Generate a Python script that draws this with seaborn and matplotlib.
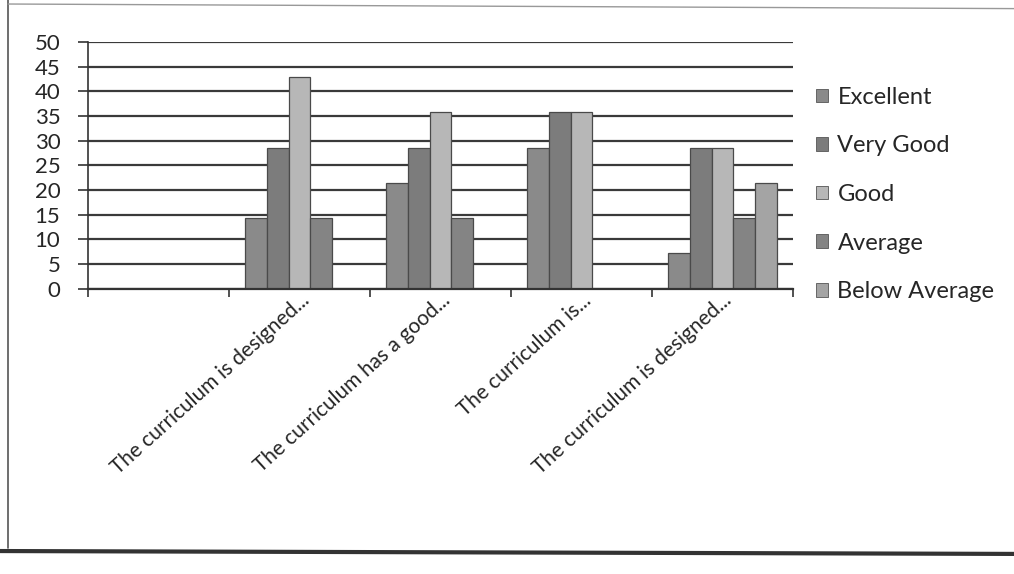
import numpy as np
import pandas as pd
import seaborn as sns
import matplotlib.pyplot as plt
from matplotlib.lines import Line2D
from matplotlib.transforms import ScaledTranslation

# data (percent of respondents)
questions = ["Q0", "Q1", "Q2", "Q3", "Q4"]
question_labels = ["",
                   "The curriculum is designed...",
                   "The curriculum has a good...",
                   "The curriculum is...",
                   "The curriculum is designed..."]
ratings = ["Excellent", "Very Good", "Good", "Average", "Below Average"]
excellent = [np.nan, 14.29, 21.43, 28.57, 7.14]
very_good = [np.nan, 28.57, 28.57, 35.71, 28.57]
good = [np.nan, 42.86, 35.71, 35.71, 28.57]
average = [np.nan, 14.29, 14.29, 0, 14.29]
below_average = [np.nan, 0, 0, 0, 21.43]
yticks = list(range(0, 55, 5))

colors = ["#8a8a8a", "#7c7c7c", "#b7b7b7", "#848484", "#a4a4a4"]

rows = []
for r, vals in zip(ratings, [excellent, very_good, good, average, below_average]):
    for q, v in zip(questions, vals):
        if not np.isnan(v):
            rows.append({"question": q, "rating": r, "value": v})
df = pd.DataFrame(rows)

sns.set_style("white")
plt.rcParams['font.family'] = ['Lato', 'DejaVu Sans']

fig = plt.figure(figsize=(10.14, 5.74), dpi=100)
ax = fig.add_axes([0.087, 0.497, 0.695, 0.43])

sns.barplot(data=df, x="question", y="value", hue="rating", order=questions,
            hue_order=ratings, palette=colors, width=0.77, gap=0,
            edgecolor="#4a4a4a", linewidth=0.9, ax=ax, legend=False)

ax.set_ylim(0, 50)
ax.set_xlim(-0.5, len(questions) - 0.5)
ax.set_yticks(yticks)
ax.set_yticklabels([str(t) for t in yticks], fontsize=16)
ax.yaxis.grid(True, color="#3a3a3a", linewidth=1.6)
ax.set_axisbelow(True)

ax.set_xticks(range(len(questions)))
ax.set_xticklabels(question_labels, rotation=42, ha="right",
                   rotation_mode="anchor", fontsize=15)
shift = ScaledTranslation(-12 / 100, 0, fig.dpi_scale_trans)
for lbl in ax.get_xticklabels():
    lbl.set_transform(lbl.get_transform() + shift)
ax.set_xticks(np.arange(-0.5, len(questions), 1), minor=True)
ax.tick_params(axis="x", which="major", length=0, pad=1)
ax.tick_params(axis="x", which="minor", length=6, width=1.2, color="#333333",
               direction="out", bottom=True)
ax.tick_params(axis="y", length=7, width=1.2, color="#333333",
               direction="out", left=True, pad=13)
ax.set_xlabel("")
ax.set_ylabel("")

for side in ["top", "right"]:
    ax.spines[side].set_visible(False)
ax.spines["left"].set_color("#333333")
ax.spines["bottom"].set_color("#333333")
ax.spines["left"].set_linewidth(1.2)
ax.spines["bottom"].set_linewidth(1.6)

handles = [plt.Rectangle((0, 0), 1, 1, facecolor=c, edgecolor="#555555", linewidth=0.6)
           for c in colors]
fig.legend(handles, ratings, loc="upper left", bbox_to_anchor=(0.784, 0.886),
           frameon=False, fontsize=17, handlelength=0.5, handleheight=0.5,
           handletextpad=0.4, labelspacing=1.17)

# border of the scanned chart box
fig.add_artist(Line2D([0.008, 0.008], [0.045, 1.0], color="#555555", lw=1.2))
fig.add_artist(Line2D([0.008, 1.0], [0.993, 0.985], color="#999999", lw=1.0))
fig.add_artist(Line2D([0.0, 1.0], [0.04, 0.035], color="#333333", lw=3))

fig.savefig("out.png", dpi=100)
